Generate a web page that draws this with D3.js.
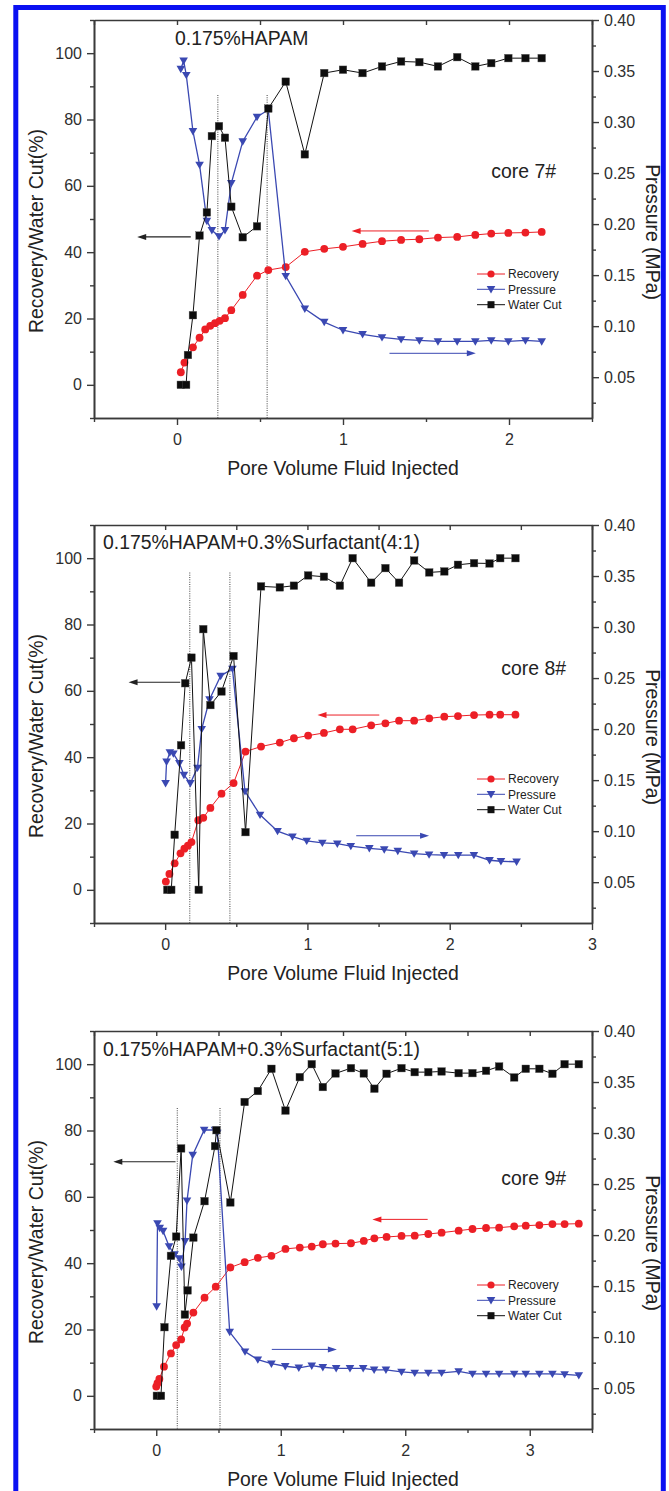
<!DOCTYPE html>
<html>
<head>
<meta charset="utf-8">
<script src="https://cdn.jsdelivr.net/npm/d3@7"></script>
<style>
  body { margin: 0; background: #fff; }
</style>
</head>
<body>
<svg id="chart" width="669" height="1491"></svg>
<script>
// ---- data ----
const core7RecoveryPv = [0.023, 0.045, 0.096, 0.136, 0.17, 0.20, 0.229, 0.257, 0.289, 0.327, 0.396, 0.482, 0.55, 0.655, 0.77, 0.887, 1.0, 1.118, 1.235, 1.35, 1.46, 1.572, 1.688, 1.797, 1.893, 1.996, 2.099, 2.197];
const core7Recovery   = [3.8, 6.7, 11.3, 14.2, 16.7, 17.8, 18.6, 19.3, 20.1, 22.5, 27.1, 32.9, 34.6, 35.5, 40.1, 41.0, 41.6, 42.5, 43.3, 43.7, 43.9, 44.4, 44.6, 45.2, 45.6, 45.8, 45.9, 46.1];
const core7PressurePv = [0.023, 0.04, 0.056, 0.096, 0.136, 0.18, 0.21, 0.253, 0.289, 0.327, 0.396, 0.482, 0.55, 0.655, 0.77, 0.887, 1.0, 1.118, 1.235, 1.35, 1.46, 1.572, 1.688, 1.797, 1.893, 1.996, 2.099, 2.197];
const core7Pressure   = [0.352, 0.360, 0.346, 0.291, 0.258, 0.203, 0.194, 0.188, 0.194, 0.240, 0.281, 0.305, 0.312, 0.149, 0.117, 0.104, 0.096, 0.092, 0.089, 0.087, 0.086, 0.085, 0.085, 0.085, 0.086, 0.085, 0.086, 0.085];
const core7WaterCutPv = [0.023, 0.055, 0.066, 0.096, 0.136, 0.18, 0.21, 0.253, 0.289, 0.327, 0.396, 0.482, 0.55, 0.655, 0.77, 0.887, 1.0, 1.118, 1.235, 1.35, 1.46, 1.572, 1.688, 1.797, 1.893, 1.996, 2.099, 2.197];
const core7WaterCut   = [0, 0, 9, 21, 45, 52, 75, 78, 74.5, 53.7, 44.5, 47.8, 83.3, 91.4, 69.5, 94, 95, 94, 96, 97.5, 97.3, 96, 98.8, 96, 97, 98.5, 98.5, 98.5];

const core8RecoveryPv = [0.005, 0.03, 0.067, 0.108, 0.135, 0.16, 0.185, 0.233, 0.268, 0.318, 0.396, 0.481, 0.565, 0.674, 0.806, 0.905, 1.005, 1.116, 1.228, 1.318, 1.448, 1.548, 1.644, 1.75, 1.856, 1.962, 2.058, 2.171, 2.28, 2.355, 2.462];
const core8Recovery   = [2.5, 4.8, 8, 11, 12.4, 13.3, 14.4, 21, 21.7, 24.7, 29, 32.2, 41.7, 43.2, 44.4, 45.7, 46.5, 47.3, 48.4, 48.4, 49.6, 50.2, 51, 51, 51.7, 52.2, 52.4, 52.7, 52.8, 52.8, 52.8];
const core8PressurePv = [0.003, 0.01, 0.033, 0.058, 0.1, 0.132, 0.177, 0.227, 0.257, 0.312, 0.39, 0.473, 0.561, 0.667, 0.79, 0.895, 0.995, 1.105, 1.21, 1.305, 1.435, 1.54, 1.635, 1.75, 1.855, 1.96, 2.06, 2.17, 2.28, 2.36, 2.47];
const core8Pressure   = [0.147, 0.168, 0.177, 0.176, 0.1665, 0.155, 0.147, 0.162, 0.200, 0.229, 0.252, 0.259, 0.139, 0.116, 0.100, 0.0946, 0.0905, 0.0885, 0.0877, 0.0853, 0.0832, 0.082, 0.0805, 0.078, 0.077, 0.0765, 0.0765, 0.0765, 0.0715, 0.0705, 0.070];
const core8WaterCutPv = [0.015, 0.043, 0.067, 0.112, 0.141, 0.185, 0.236, 0.268, 0.318, 0.396, 0.481, 0.565, 0.674, 0.806, 0.905, 1.005, 1.116, 1.228, 1.318, 1.448, 1.548, 1.644, 1.75, 1.856, 1.962, 2.058, 2.171, 2.28, 2.355, 2.462];
const core8WaterCut   = [0, 0, 16.6, 43.6, 62.3, 70, 0, 78.6, 55.7, 59.8, 70.5, 17.4, 91.5, 91.2, 91.7, 94.8, 94.4, 91.7, 100, 92.6, 97, 92.6, 99.3, 95.7, 96, 98, 98.5, 98.4, 100, 100];

const core9RecoveryPv = [0.0, 0.01, 0.025, 0.062, 0.118, 0.16, 0.2, 0.228, 0.248, 0.298, 0.388, 0.478, 0.595, 0.71, 0.816, 0.925, 1.038, 1.153, 1.249, 1.338, 1.44, 1.564, 1.667, 1.752, 1.85, 1.97, 2.076, 2.185, 2.292, 2.429, 2.54, 2.649, 2.754, 2.875, 2.968, 3.077, 3.182, 3.28, 3.394];
const core9Recovery   = [2.8, 3.8, 5.1, 8.8, 12.8, 15.3, 17, 20.6, 21.8, 25.1, 29.6, 32.9, 38.7, 40.3, 41.6, 42.2, 44.3, 44.7, 45, 45.7, 45.9, 46, 46.7, 47.5, 47.9, 48.2, 48.3, 48.8, 49.2, 49.8, 50.3, 50.6, 50.7, 51.1, 51.3, 51.5, 51.8, 51.8, 51.9];
const core9PressurePv = [0.003, 0.01, 0.028, 0.055, 0.103, 0.147, 0.185, 0.202, 0.232, 0.247, 0.293, 0.385, 0.472, 0.49, 0.59, 0.713, 0.816, 0.925, 1.036, 1.145, 1.249, 1.338, 1.445, 1.556, 1.662, 1.75, 1.845, 1.97, 2.076, 2.185, 2.292, 2.429, 2.54, 2.649, 2.754, 2.875, 2.968, 3.077, 3.182, 3.28, 3.394];
const core9Pressure   = [0.130, 0.2115, 0.207, 0.204, 0.189, 0.181, 0.177, 0.169, 0.194, 0.2336, 0.2785, 0.303, 0.303, 0.300, 0.105, 0.0858, 0.078, 0.074, 0.0715, 0.070, 0.072, 0.0705, 0.0695, 0.0695, 0.0695, 0.068, 0.068, 0.066, 0.065, 0.065, 0.065, 0.0665, 0.064, 0.064, 0.064, 0.064, 0.064, 0.064, 0.064, 0.0635, 0.0625];
const core9WaterCutPv = [0.005, 0.038, 0.066, 0.118, 0.16, 0.2, 0.23, 0.252, 0.298, 0.388, 0.472, 0.484, 0.595, 0.71, 0.816, 0.925, 1.038, 1.153, 1.249, 1.338, 1.44, 1.564, 1.667, 1.752, 1.85, 1.97, 2.076, 2.185, 2.292, 2.429, 2.54, 2.649, 2.754, 2.875, 2.968, 3.077, 3.182, 3.28, 3.394];
const core9WaterCut   = [0, 0, 20.7, 42.2, 48, 74.6, 24.5, 31.8, 47.7, 58.7, 75.3, 80.1, 58.3, 88.6, 91.9, 98.6, 86, 96.1, 100, 93.1, 97.2, 98.8, 97.2, 92.6, 97.1, 98.8, 97.6, 97.6, 97.8, 97.3, 97.3, 98, 99.3, 96, 98.6, 98.6, 97.1, 100, 100];

const leftTicks = [0, 20, 40, 60, 80, 100];
const leftMinorTicks = [-10, 10, 30, 50, 70, 90, 110];
const rightTicks = [0.05, 0.10, 0.15, 0.20, 0.25, 0.30, 0.35, 0.40];
const rightMinorTicks = [0.025, 0.075, 0.125, 0.175, 0.225, 0.275, 0.325, 0.375];
const legendLabels = ["Recovery", "Pressure", "Water Cut"];
const panelTitles = ["0.175%HAPAM", "0.175%HAPAM+0.3%Surfactant(4:1)", "0.175%HAPAM+0.3%Surfactant(5:1)"];
const coreLabels = ["core 7#", "core 8#", "core 9#"];

// ---- layout ----
const ctx = {
    left: 94,
    right: 592,
    plotH: 398,
    font: "'Liberation Sans', Arial, Helvetica, sans-serif",
    axisColor: "#3a3a3a",
    red: "#ec1f26",
    blue: "#3a48b2"
};

const panels = [
    { top: 20, xMax: 2.5, xTicks: [0, 1, 2],
      rec: [core7RecoveryPv, core7Recovery], pre: [core7PressurePv, core7Pressure], wc: [core7WaterCutPv, core7WaterCut],
      titleX: 175, titleDy: 24.5, coreX: 556, coreDy: 157.5,
      dotted: [0.246, 0.543], dotTop: 87.4,
      blackArrow: [0.083, -0.24, 44.6], redArrow: [1.517, 1.052, 46.4], blueArrow: [1.28, 1.80, 0.0734] },
    { top: 525, xMax: 3, xTicks: [0, 1, 2, 3],
      rec: [core8RecoveryPv, core8Recovery], pre: [core8PressurePv, core8Pressure], wc: [core8WaterCutPv, core8WaterCut],
      titleX: 103, titleDy: 23.5, coreX: 566, coreDy: 150,
      dotted: [0.173, 0.455], dotTop: 95.7,
      blackArrow: [0.106, -0.257, 62.6], redArrow: [1.505, 1.071, 52.7], blueArrow: [1.343, 1.855, 0.0955] },
    { top: 1031, xMax: 3.5, xTicks: [0, 1, 2, 3],
      rec: [core9RecoveryPv, core9Recovery], pre: [core9PressurePv, core9Pressure], wc: [core9WaterCutPv, core9WaterCut],
      titleX: 103, titleDy: 25, coreX: 566, coreDy: 153.5,
      dotted: [0.169, 0.512], dotTop: 86.8,
      blackArrow: [0.155, -0.345, 70.6], redArrow: [2.18, 1.736, 53.2], blueArrow: [0.928, 1.451, 0.088] }
];

const svg = d3.select("#chart");
svg.append("rect").attr("width", 669).attr("height", 1491).attr("fill", "#fff");

const triPath = "M-4.3,-3.2L4.3,-3.2L0,4.2Z";

function styleAxis(a, labelSize) {
    a.select(".domain").attr("stroke", ctx.axisColor).attr("stroke-width", 1.6);
    a.selectAll(".tick line").attr("stroke", ctx.axisColor).attr("stroke-width", 1.4);
    a.selectAll(".tick text")
        .attr("fill", "#2e2e2e")
        .style("font-family", ctx.font)
        .style("font-size", labelSize + "px");
}

function addAxis(g, gen, tx, ty) {
    const a = g.append("g").attr("transform", `translate(${tx},${ty})`).call(gen);
    styleAxis(a, 16);
    return a;
}

function drawArrow(g, x1, x2, y, color, w) {
    const dir = x2 > x1 ? 1 : -1;
    g.append("line")
        .attr("x1", x1).attr("x2", x2 - dir * 3).attr("y1", y).attr("y2", y)
        .attr("stroke", color).attr("stroke-width", w);
    g.append("path")
        .attr("d", `M${x2},${y}L${x2 - dir * 9},${y - 3}L${x2 - dir * 9},${y + 3}Z`)
        .attr("fill", color);
}

function drawPanel(p, i) {
    const top = p.top, bottom = p.top + ctx.plotH;
    const x = d3.scaleLinear().domain([-0.5, p.xMax]).range([ctx.left, ctx.right]);
    const yL = d3.scaleLinear().domain([-10, 110]).range([bottom, top]);
    const yR = d3.scaleLinear().domain([0.01, 0.40]).range([bottom, top]);
    const g = svg.append("g");

    const xMinor = d3.range(-0.5, p.xMax + 0.01, 1);
    const xAll = d3.range(-0.5, p.xMax + 0.01, 0.5);

    // frame + ticks
    addAxis(g, d3.axisBottom(x).tickValues(xMinor).tickSize(4).tickSizeOuter(0).tickFormat(""), 0, bottom);
    addAxis(g, d3.axisBottom(x).tickValues(p.xTicks).tickSize(7).tickSizeOuter(0).tickPadding(9).tickFormat(d3.format("d")), 0, bottom);
    addAxis(g, d3.axisBottom(x).tickValues(xAll).tickSize(5).tickSizeOuter(0).tickFormat(""), 0, top);
    addAxis(g, d3.axisLeft(yL).tickValues(leftMinorTicks).tickSize(4).tickSizeOuter(0).tickFormat(""), ctx.left, 0);
    addAxis(g, d3.axisLeft(yL).tickValues(leftTicks).tickSize(7).tickSizeOuter(0).tickPadding(5).tickFormat(d3.format("d")), ctx.left, 0);
    addAxis(g, d3.axisRight(yR).tickValues(rightMinorTicks).tickSize(4).tickSizeOuter(0).tickFormat(""), ctx.right, 0);
    addAxis(g, d3.axisRight(yR).tickValues(rightTicks).tickSize(7).tickSizeOuter(0).tickPadding(5).tickFormat(d3.format(".2f")), ctx.right, 0);

    // axis titles
    const midY = (top + bottom) / 2;
    g.append("text")
        .attr("transform", `translate(43,${midY + 12}) rotate(-90)`)
        .attr("text-anchor", "middle")
        .style("font-family", ctx.font).style("font-size", "19.4px").attr("fill", "#222")
        .text("Recovery/Water Cut(%)");
    g.append("text")
        .attr("transform", `translate(646,${midY + 13}) rotate(90)`)
        .attr("text-anchor", "middle")
        .style("font-family", ctx.font).style("font-size", "19.4px").attr("fill", "#222")
        .text("Pressure (MPa)");
    g.append("text")
        .attr("x", (ctx.left + ctx.right) / 2).attr("y", bottom + 57)
        .attr("text-anchor", "middle")
        .style("font-family", ctx.font).style("font-size", "19.4px").attr("fill", "#222")
        .text("Pore Volume Fluid Injected");

    // annotations
    g.append("text")
        .attr("x", p.titleX).attr("y", top + p.titleDy)
        .style("font-family", ctx.font).style("font-size", "19.4px").attr("fill", "#222")
        .text(panelTitles[i]);
    g.append("text")
        .attr("x", p.coreX).attr("y", top + p.coreDy)
        .attr("text-anchor", "end")
        .style("font-family", ctx.font).style("font-size", "19.4px").attr("fill", "#222")
        .text(coreLabels[i]);

    // dotted guide lines
    p.dotted.forEach(d => {
        g.append("line")
            .attr("x1", x(d)).attr("x2", x(d))
            .attr("y1", yL(p.dotTop)).attr("y2", bottom)
            .attr("stroke", "#555").attr("stroke-width", 1.1)
            .attr("stroke-dasharray", "1,1.3");
    });

    // arrows
    drawArrow(g, x(p.blackArrow[0]), x(p.blackArrow[1]), yL(p.blackArrow[2]), "#222", 1.1);
    drawArrow(g, x(p.redArrow[0]), x(p.redArrow[1]), yL(p.redArrow[2]), ctx.red, 1);
    drawArrow(g, x(p.blueArrow[0]), x(p.blueArrow[1]), yR(p.blueArrow[2]), ctx.blue, 1);

    // recovery
    const recPts = p.rec[0].map((v, k) => [x(v), yL(p.rec[1][k])]);
    g.append("path").attr("d", d3.line()(recPts))
        .attr("fill", "none").attr("stroke", ctx.red).attr("stroke-width", 1);
    g.selectAll(null).data(recPts).enter().append("circle")
        .attr("cx", d => d[0]).attr("cy", d => d[1]).attr("r", 3.9)
        .attr("fill", ctx.red);

    // pressure
    const prePts = p.pre[0].map((v, k) => [x(v), yR(p.pre[1][k])]);
    g.append("path").attr("d", d3.line()(prePts))
        .attr("fill", "none").attr("stroke", ctx.blue).attr("stroke-width", 1.3);
    g.selectAll(null).data(prePts).enter().append("path")
        .attr("d", triPath)
        .attr("transform", d => `translate(${d[0]},${d[1]})`)
        .attr("fill", ctx.blue);

    // water cut
    const wcPts = p.wc[0].map((v, k) => [x(v), yL(p.wc[1][k])]);
    g.append("path").attr("d", d3.line()(wcPts))
        .attr("fill", "none").attr("stroke", "#111").attr("stroke-width", 1);
    g.selectAll(null).data(wcPts).enter().append("rect")
        .attr("x", d => d[0] - 3.8).attr("y", d => d[1] - 3.8)
        .attr("width", 7.6).attr("height", 7.6)
        .attr("fill", "#0d0d0d").attr("stroke", "#555").attr("stroke-width", 0.4);

    // legend
    const legendRows = [top + 254, top + 269.3, top + 284.7];
    legendLabels.forEach((lab, k) => {
        const ly = legendRows[k];
        const col = [ctx.red, ctx.blue, "#111"][k];
        g.append("line").attr("x1", 477).attr("x2", 505).attr("y1", ly).attr("y2", ly)
            .attr("stroke", col).attr("stroke-width", 1);
        if (k === 0) g.append("circle").attr("cx", 491).attr("cy", ly).attr("r", 3.6).attr("fill", col);
        if (k === 1) g.append("path").attr("d", triPath).attr("transform", `translate(491,${ly})`).attr("fill", col);
        if (k === 2) g.append("rect").attr("x", 487.5).attr("y", ly - 3.5).attr("width", 7).attr("height", 7).attr("fill", col);
        g.append("text")
            .attr("x", 508).attr("y", ly + 4.3)
            .style("font-family", ctx.font).style("font-size", "12px").attr("fill", "#222")
            .text(lab);
    });
}

panels.forEach((p, i) => drawPanel(p, i));

// blue outer border (bottom edge runs off the page)
svg.append("rect")
    .attr("x", 15.8).attr("y", 7.5)
    .attr("width", 647.5).attr("height", 1500)
    .attr("fill", "none").attr("stroke", "#0a10f2").attr("stroke-width", 5);
</script>
</body>
</html>
